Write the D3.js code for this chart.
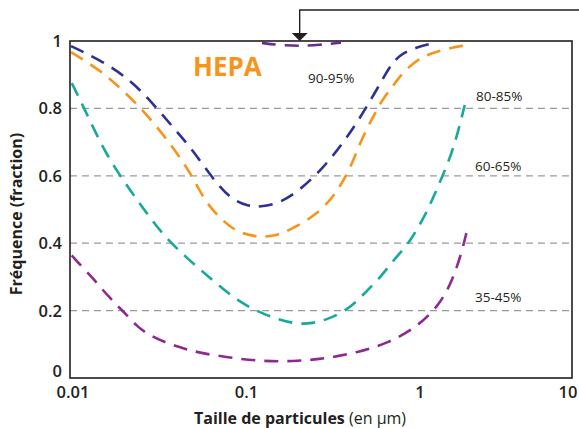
<!DOCTYPE html>
<html>
<head>
<meta charset="utf-8">
<script src="https://cdn.jsdelivr.net/npm/d3@7"></script>
<style>
  body { margin: 0; background: #fff; }
  svg text { font-family: "Open Sans", "Noto Sans", sans-serif; fill: #231f20; }
</style>
</head>
<body>
<div class="canvas"></div>
<script>
// frame of the plot
const frame = { left: 70, right: 572, top: 41, bottom: 378 };

// tick labels
const xTicks = [0.01, 0.1, 1, 10];
const yTicks = [0, 0.2, 0.4, 0.6, 0.8, 1];
const gridValues = [0.2, 0.4, 0.6, 0.8];

// curves, [particle size (µm), fraction]
const hepa = [[0.126, 0.994], [0.16, 0.988], [0.208, 0.985], [0.27, 0.988], [0.36, 0.995]];
const f9095 = [
  [0.01, 0.985], [0.0147, 0.944], [0.0213, 0.89], [0.0285, 0.825], [0.0387, 0.744],
  [0.0505, 0.676], [0.0677, 0.581], [0.0857, 0.527], [0.105, 0.51], [0.1225, 0.507],
  [0.16, 0.519], [0.208, 0.557], [0.283, 0.622], [0.369, 0.697], [0.455, 0.765],
  [0.563, 0.845], [0.687, 0.925], [0.784, 0.96], [0.99, 0.982], [1.17, 0.991]
];
const f8085 = [
  [0.01, 0.967], [0.0147, 0.914], [0.0199, 0.854], [0.0277, 0.78], [0.0387, 0.685],
  [0.0498, 0.602], [0.0592, 0.522], [0.0771, 0.459], [0.094, 0.43], [0.12, 0.418],
  [0.15, 0.421], [0.182, 0.439], [0.26, 0.483], [0.339, 0.548], [0.41, 0.625],
  [0.47, 0.706], [0.55, 0.774], [0.62, 0.825], [0.72, 0.868], [0.82, 0.908],
  [1.02, 0.95], [1.33, 0.973], [1.9, 0.988]
];
const f6065 = [
  [0.0101, 0.875], [0.0113, 0.825], [0.0134, 0.744], [0.0161, 0.661], [0.0205, 0.578],
  [0.026, 0.504], [0.0339, 0.424], [0.0466, 0.355], [0.0658, 0.29], [0.09, 0.23],
  [0.131, 0.186], [0.196, 0.159], [0.247, 0.162], [0.3, 0.174], [0.369, 0.195],
  [0.44, 0.225], [0.51, 0.26], [0.6, 0.296], [0.687, 0.335], [0.784, 0.37],
  [0.895, 0.403], [1.12, 0.489], [1.33, 0.578], [1.57, 0.667], [1.74, 0.75], [1.86, 0.81]
];
const f3545 = [
  [0.0101, 0.364], [0.0116, 0.329], [0.0134, 0.296], [0.0153, 0.26], [0.0179, 0.222],
  [0.0205, 0.192], [0.0243, 0.15], [0.0285, 0.127], [0.0348, 0.106], [0.0424, 0.091],
  [0.0532, 0.076], [0.08, 0.061], [0.1225, 0.05], [0.19, 0.049], [0.29, 0.057],
  [0.45, 0.076], [0.67, 0.103], [0.98, 0.15], [1.33, 0.216], [1.58, 0.29],
  [1.78, 0.37], [1.9, 0.43]
];

const series = [
  { values: f3545, color: '#8e2a8f', label: '35-45%', lx: 475, ly: 302 },
  { values: f6065, color: '#17a99b', label: '60-65%', lx: 475, ly: 171 },
  { values: f8085, color: '#f7941d', label: '80-85%', lx: 476, ly: 101 },
  { values: f9095, color: '#2e3192', label: '90-95%', lx: 308, ly: 83 },
  { values: hepa, color: '#6a2c91', label: null }
];

const svg = d3.select('.canvas')
  .append('svg')
  .attr('width', 579)
  .attr('height', 428);

// scales
const x = d3.scaleLog().domain([0.01, 10]).range([71, 71 + 3 * 173.5]);
const y = d3.scaleLinear().domain([0, 1]).range([frame.bottom, frame.top]);

svg.append('clipPath').attr('id', 'plot-clip')
  .append('rect')
  .attr('x', frame.left).attr('y', frame.top - 6)
  .attr('width', frame.right - frame.left)
  .attr('height', frame.bottom - frame.top + 6);

// grid lines
svg.append('g').attr('class', 'grid')
  .selectAll('line')
  .data(gridValues)
  .enter().append('line')
  .attr('x1', frame.left).attr('x2', frame.right)
  .attr('y1', d => y(d)).attr('y2', d => y(d))
  .attr('stroke', '#9a9a9a')
  .attr('stroke-width', 1.3)
  .attr('stroke-dasharray', '7,5');

// curves (basis smooths out the reading noise)
const line = d3.line()
  .curve(d3.curveBasis)
  .x(d => x(d[0]))
  .y(d => y(d[1]));

svg.append('g').attr('clip-path', 'url(#plot-clip)')
  .selectAll('path')
  .data(series)
  .enter().append('path')
  .attr('d', d => line(d.values))
  .attr('fill', 'none')
  .attr('stroke', d => d.color)
  .attr('stroke-width', 2.6)
  .attr('stroke-dasharray', '14,9');

// frame
svg.append('rect')
  .attr('x', frame.left).attr('y', frame.top)
  .attr('width', frame.right - frame.left)
  .attr('height', frame.bottom - frame.top)
  .attr('fill', 'none')
  .attr('stroke', '#231f20')
  .attr('stroke-width', 1.6);

// arrow from the top right
const arrowX = x(0.208);
svg.append('path')
  .attr('d', `M579,10H${arrowX}V34`)
  .attr('fill', 'none')
  .attr('stroke', '#231f20')
  .attr('stroke-width', 1.4);
svg.append('path')
  .attr('d', `M${arrowX - 8},33L${arrowX + 8},33L${arrowX},${frame.top}Z`)
  .attr('fill', '#231f20');

// y tick labels
svg.append('g').selectAll('text')
  .data(yTicks)
  .enter().append('text')
  .attr('x', 62)
  .attr('y', d => y(d) - (d === 0 ? 7 : 0))
  .attr('dy', '0.36em')
  .attr('text-anchor', 'end')
  .attr('font-size', 16.5)
  .attr('font-weight', 600)
  .text(d => d);

// x tick labels
svg.append('g').selectAll('text')
  .data(xTicks)
  .enter().append('text')
  .attr('x', d => Math.min(x(d) + 2, frame.right - 4))
  .attr('y', 398)
  .attr('text-anchor', 'middle')
  .attr('font-size', 16.5)
  .attr('font-weight', 600)
  .text(d => d);

// series labels
svg.append('g').selectAll('text')
  .data(series.filter(d => d.label))
  .enter().append('text')
  .attr('x', d => d.lx)
  .attr('y', d => d.ly)
  .attr('font-size', 13.5)
  .text(d => d.label);

svg.append('text')
  .attr('x', 193).attr('y', 76)
  .attr('font-size', 26)
  .attr('font-weight', 700)
  .style('fill', '#f7941d')
  .text('HEPA');

// axis titles
const xTitle = svg.append('text')
  .attr('x', 300).attr('y', 424)
  .attr('text-anchor', 'middle')
  .attr('font-size', 16);
xTitle.append('tspan').attr('font-weight', 700).text('Taille de particules');
xTitle.append('tspan').attr('font-weight', 400).text(' (en µm)');

svg.append('text')
  .attr('transform', 'translate(22,214) rotate(-90)')
  .attr('text-anchor', 'middle')
  .attr('font-size', 16)
  .attr('font-weight', 700)
  .text('Fréquence (fraction)');
</script>
</body>
</html>
